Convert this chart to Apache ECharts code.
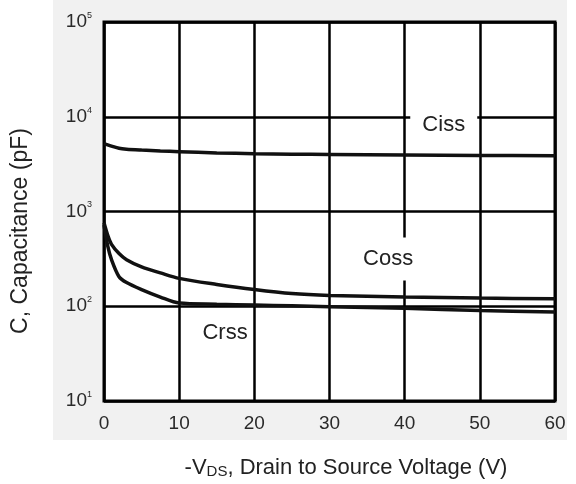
<!DOCTYPE html>
<html>
<head>
<meta charset="utf-8">
<script src="https://cdn.jsdelivr.net/npm/echarts@6/dist/echarts.min.js"></script>
<style>
  html, body { margin: 0; padding: 0; background: #fff; }
  #chart { width: 576px; height: 484px; }
</style>
</head>
<body>
<div id="chart"></div>
<script>
// drain-source voltage (V)
const voltage = [0, 0.5, 1, 2, 3, 5, 7.5, 10, 15, 20, 25, 30, 40, 50, 60];
// capacitance (pF)
const ciss = [5200, 5050, 4900, 4650, 4550, 4450, 4350, 4280, 4150, 4080, 4030, 4000, 3950, 3900, 3880];
const coss = [760, 560, 450, 360, 310, 260, 225, 197, 170, 150, 136, 130, 125, 122, 120];
const crss = [720, 430, 310, 205, 178, 150, 125, 108, 105, 103, 101, 99, 95, 90, 87];

const xTicks = [0, 10, 20, 30, 40, 50, 60];
// label positions [V, pF]
const labels = [
  { name: 'Ciss', coord: [45.2, 8200], size: [67, 28], fill: '#fff' },
  { name: 'Coss', coord: [37.8, 316], size: [62, 43], fill: '#fff' },
  { name: 'Crss', coord: [16.1, 52], size: [50, 26], fill: 'rgba(255,255,255,0)' }
];

const chart = echarts.init(document.getElementById('chart'));

const pairs = arr => voltage.map((v, i) => [v, arr[i]]);

const curve = (name, arr, lbl) => ({
  name: name,
  type: 'line',
  data: pairs(arr),
  smooth: 0.3,
  showSymbol: false,
  lineStyle: { color: '#111', width: 3.5 },
  z: 3,
  markPoint: {
    symbol: 'rect',
    symbolSize: lbl.size,
    itemStyle: { color: lbl.fill },
    label: {
      show: true,
      formatter: name,
      color: '#222',
      fontSize: 22,
      fontFamily: 'Liberation Sans, Arial, sans-serif'
    },
    data: [{ coord: lbl.coord }]
  }
});

chart.setOption({
  animation: false,
  backgroundColor: '#fff',
  graphic: [{
    type: 'rect',
    shape: { x: 53, y: 0, width: 514, height: 440 },
    style: { fill: '#f1f1f1' },
    z: -100,
    silent: true
  }],
  grid: {
    left: 104,
    right: 21,
    top: 22,
    bottom: 83,
    containLabel: false,
    outerBoundsMode: 'none',
    show: true,
    backgroundColor: '#fff',
    borderColor: '#000',
    borderWidth: 3
  },
  xAxis: {
    type: 'value',
    min: xTicks[0],
    max: xTicks[xTicks.length - 1],
    interval: 10,
    name: '-V{sub|DS}, Drain to Source Voltage (V)',
    nameLocation: 'middle',
    nameGap: 55,
    nameTextStyle: {
      color: '#222',
      fontSize: 22,
      fontFamily: 'Liberation Sans, Arial, sans-serif',
      padding: [0, 0, 0, 33],
      rich: {
        sub: { fontSize: 15, verticalAlign: 'bottom', padding: [8, 0, 0, 0], color: '#222' }
      }
    },
    axisLine: { show: false },
    axisTick: { show: false },
    axisLabel: {
      margin: 13,
      color: '#2a2a2a',
      fontSize: 19,
      fontFamily: 'Liberation Sans, Arial, sans-serif'
    },
    splitLine: { show: true, lineStyle: { color: '#000', width: 2.5 } }
  },
  yAxis: {
    type: 'log',
    logBase: 10,
    min: 10,
    max: 100000,
    name: 'C, Capacitance (pF)',
    nameLocation: 'middle',
    nameGap: 72,
    nameTextStyle: {
      color: '#222',
      fontSize: 23,
      fontFamily: 'Liberation Sans, Arial, sans-serif',
      padding: [0, 39, 0, 0]
    },
    axisLine: { show: false },
    axisTick: { show: false },
    axisLabel: {
      margin: 12,
      formatter: v => '{b|10}{s|' + Math.round(Math.log10(v)) + '}',
      rich: {
        b: { fontSize: 19, color: '#2a2a2a', lineHeight: 22, fontFamily: 'Liberation Sans, Arial, sans-serif' },
        s: { fontSize: 9, color: '#2a2a2a', lineHeight: 9, verticalAlign: 'top', fontFamily: 'Liberation Sans, Arial, sans-serif' }
      }
    },
    splitLine: { show: true, lineStyle: { color: '#000', width: 2.5 } }
  },
  series: [
    curve('Ciss', ciss, labels[0]),
    curve('Coss', coss, labels[1]),
    curve('Crss', crss, labels[2])
  ]
});
</script>
</body>
</html>
